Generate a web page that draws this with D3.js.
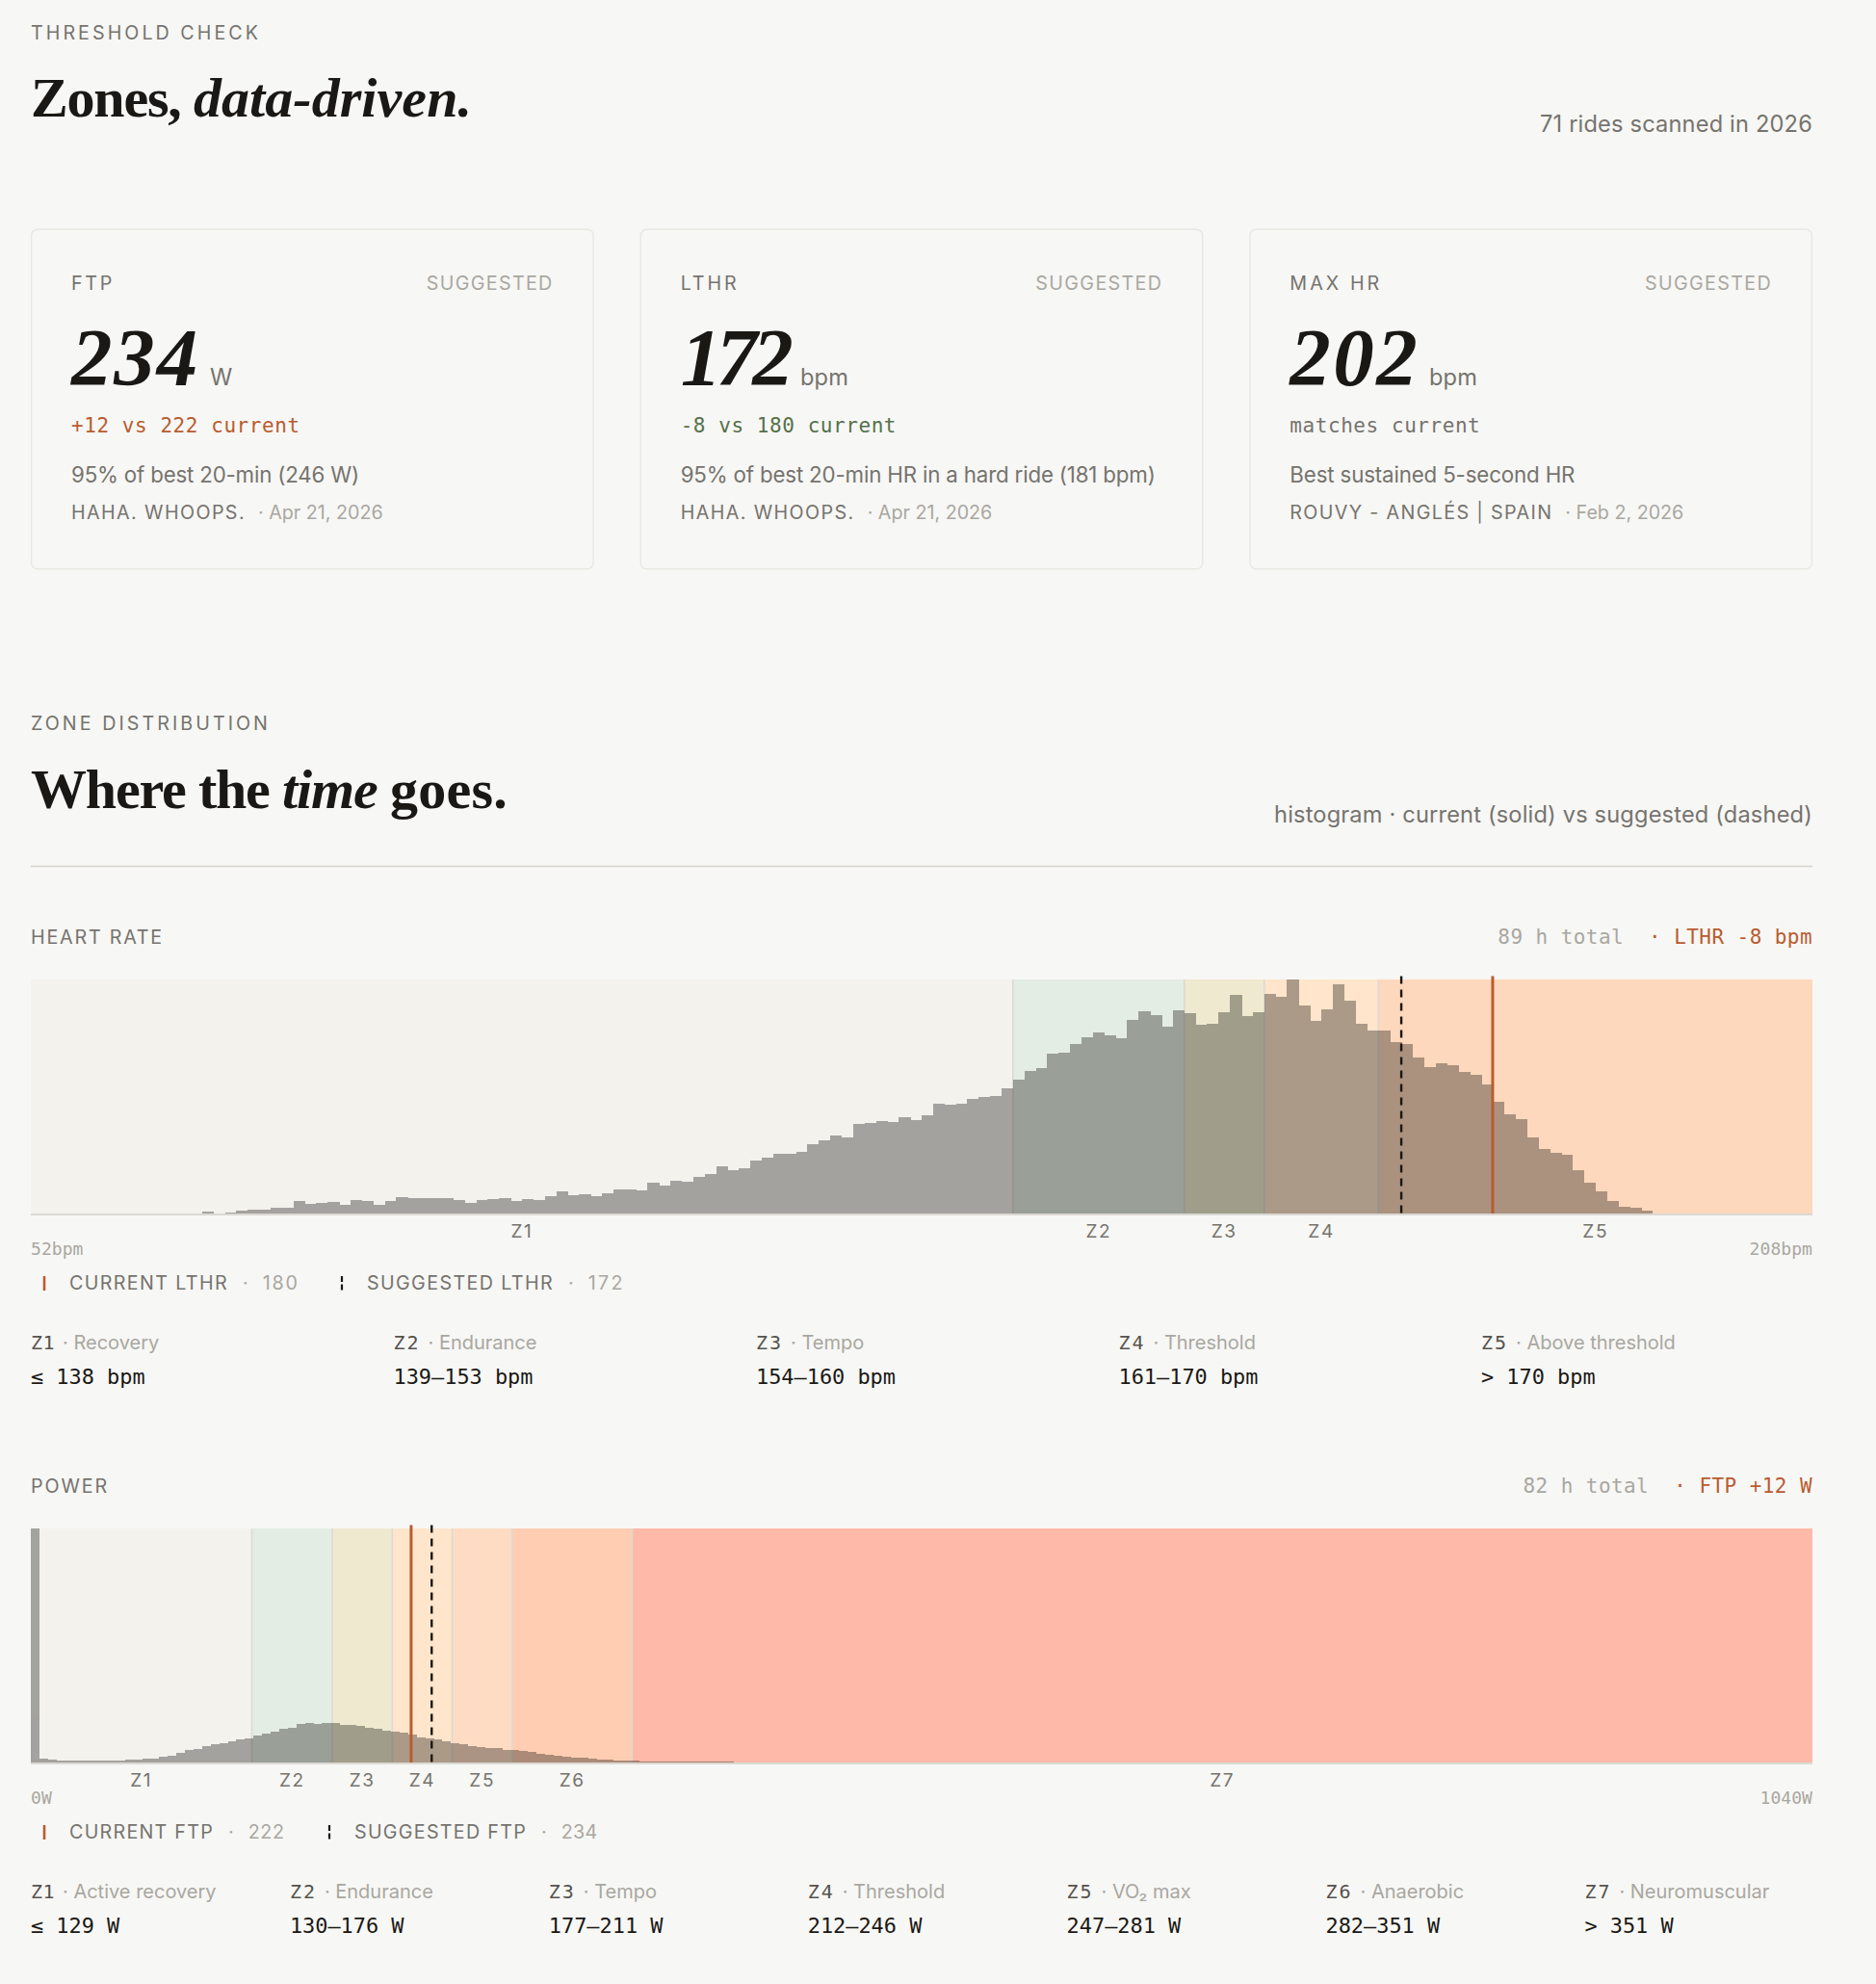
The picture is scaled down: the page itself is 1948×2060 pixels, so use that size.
<!DOCTYPE html>
<html><head><meta charset="utf-8">
<script src="https://cdn.jsdelivr.net/npm/d3@7/dist/d3.min.js"></script>
<style>html,body{margin:0;padding:0;background:#f7f7f5}svg{display:block}svg text{white-space:pre}</style>
</head><body><svg id="c" width="1948" height="2060"></svg>
<script>
// ---------- data: time per bin, as % of the tallest bar ----------
const hrBinStart = 52, hrBinEnd = 208;      // 1 bpm bins
const hrValues = [0,0,0,0,0,0,0,0,0,0,0,0,0,0,0,
 0.8,0.1,0.3,1.2,1.6,1.5,2.6,2.6,5.2,4.0,4.4,4.8,3.8,5.6,5.3,3.7,5.3,6.8,6.4,6.4,6.7,6.4,5.6,4.4,5.9,
 6.1,6.6,5.5,6.1,5.9,7.3,9.5,7.9,8.1,7.5,8.5,10.4,10.1,9.7,13.0,12.0,13.8,13.5,15.7,16.9,20.0,18.4,19.4,22.7,23.8,
 25.4,25.7,26.5,29.8,31.1,33.2,32.5,38.1,38.8,39.6,39.3,41.0,39.9,42.1,47.0,46.7,47.1,49.1,49.6,50.4,53.3,57.1,61.1,62.2,68.2,
 68.6,72.5,75.3,77.3,76.2,75.1,82.9,86.6,84.7,79.9,87.0,85.4,80.5,81.0,85.9,93.6,84.4,86.2,93.9,92.6,100,88.8,82.5,87.3,98.1,
 91.0,80.9,78.2,78.2,73.4,72.4,66.7,62.4,64.2,63.5,60.4,59.3,55.2,47.8,42.5,40.2,32.4,27.7,26.1,24.9,18.4,13.0,9.5,5.2,3.0,
 2.5,1.1,0.2,0,0,0,0,0,0,0,0,0,0,0];
const powerBinStart = 0, powerBinEnd = 1040, powerBinWidth = 5; // 5 W bins
const powerValues = [100,1.6,1.1,.9,.8,.7,.7,.7,.7,.8,.9,1.1,1.2,1.5,1.8,2.3,2.9,4.1,5.2,5.9,6.8,7.8,8.3,9.0,9.8,10.2,
 11.4,12.3,13.2,14.5,15.0,16.3,16.7,16.4,16.7,16.7,16.0,15.9,15.5,15.0,14.2,13.6,13.2,12.6,11.9,10.9,10.2,9.7,9.1,8.2,7.7,
 7.0,6.6,6.3,6.0,5.5,5.3,4.8,4.4,3.8,3.4,3.0,2.6,2.2,1.9,1.6,1.4,1.1,.9,.8,.7,.5,.5,.4,.3,.3,.3,.3,.3,.25,.25,.25,.2];

const hrZoneEdges = [52,138,153,160,170,208];
const hrZoneNames = ["Z1","Z2","Z3","Z4","Z5"];
const hrZoneDesc = ["Recovery","Endurance","Tempo","Threshold","Above threshold"];
const hrZoneRange = ["≤ 138 bpm","139–153 bpm","154–160 bpm","161–170 bpm","> 170 bpm"];
const hrZoneFill = ["#f3f2ed","#e4ede3","#efe9cf","#fee5cb","#fed8bc"];

const pwZoneEdges = [0,129,176,211,246,281,351,1040];
const pwZoneNames = ["Z1","Z2","Z3","Z4","Z5","Z6","Z7"];
const pwZoneDesc = ["Active recovery","Endurance","Tempo","Threshold","VO₂ max","Anaerobic","Neuromuscular"];
const pwZoneRange = ["≤ 129 W","130–176 W","177–211 W","212–246 W","247–281 W","282–351 W","> 351 W"];
const pwZoneFill = ["#f3f2ed","#e4ede3","#efe9cf","#fee5cb","#fedcc3","#fecdb2","#ffb9a8"];

const cardLabels = ["FTP","LTHR","MAX HR"];
const cardValues = ["234","172","202"];
const cardUnits = ["W","bpm","bpm"];
const cardDeltas = ["+12 vs 222 current","-8 vs 180 current","matches current"];
const cardNotes = ["95% of best 20-min (246 W)","95% of best 20-min HR in a hard ride (181 bpm)","Best sustained 5-second HR"];
const cardRides = ["HAHA. WHOOPS.","HAHA. WHOOPS.","ROUVY - ANGLÉS | SPAIN"];
const cardDates = ["· Apr 21, 2026","· Apr 21, 2026","· Feb 2, 2026"];

// ---------- style ----------
const SANS='Inter, sans-serif', MONO='"DejaVu Sans Mono", monospace', SERIF='"Liberation Serif", serif';
const INK='#1a1814', MID='#75736e', SOFT='#a9a7a1', ORANGE='#b95c30', GREEN='#55704a';
const L=32, R=1882;
const svg=d3.select('#c');
svg.append('rect').attr('width',1948).attr('height',2060).attr('fill','#f7f7f5');

// flowed text: spans placed one after another; w = target width fixes the letter spacing
function flow(x,y,spans,anchor){
  const g=svg.append('g'); let cx=0;
  spans.forEach(s=>{
    cx+=s.gap||0;
    const t=g.append('text').attr('x',cx).attr('y',0).text(s.t)
      .attr('fill',s.fill||INK).attr('font-family',s.font||SANS).attr('font-size',s.size)
      .attr('font-weight',s.weight||400).attr('font-style',s.italic?'italic':'normal')
      .style('font-kerning','normal');
    if(s.ls!=null) t.style('letter-spacing',s.ls+'px');
    if(s.w!=null){
      const n=t.node().getComputedTextLength();
      t.style('letter-spacing',((s.w-n)/s.t.length)+'px');
    }
    cx+=t.node().getComputedTextLength();
  });
  const ox= anchor==='end'? x-cx : anchor==='middle'? x-cx/2 : x;
  g.attr('transform',`translate(${ox},${y})`);
  return cx;
}

// ---------- header ----------
flow(L,41,[{t:'THRESHOLD CHECK',size:19.7,fill:MID,w:239}]);
flow(L,121,[{t:'Zones, ',size:58,weight:700,font:SERIF,w:169},{t:'data-driven.',size:58,weight:700,italic:true,font:SERIF,w:289}]);
flow(R,137,[{t:'71 rides scanned in 2026',size:23.6,fill:MID,w:283}],'end');

// ---------- cards ----------
const cardX=d3.scaleBand().domain(d3.range(3)).range([L,R]).paddingInner(48/632.7);
const labelW=[45,61,96], valueW=[133,112,135], unitX=[218,831,1484], unitW=[22,50,50];
const dateGap=13;
const deltaCol=[ORANGE,GREEN,MID];
const noteW=[299,493,296], rideW=[181,181,273];
cardLabels.forEach((lab,i)=>{
  const x=cardX(i), w=cardX.bandwidth(), px=x+42;
  svg.append('rect').attr('x',x+.65).attr('y',238.3).attr('width',w-1.3).attr('height',352.5)
     .attr('rx',6).attr('fill','none').attr('stroke','#e9e7e2').attr('stroke-width',1.4);
  flow(px,301,[{t:lab,size:19.7,fill:MID,w:labelW[i]}]);
  flow(x+w-42,301,[{t:'SUGGESTED',size:19.7,fill:SOFT,w:132}],'end');
  flow(px,400,[{t:cardValues[i],size:85,weight:700,italic:true,font:SERIF,w:valueW[i]}]);
  flow(unitX[i],400,[{t:cardUnits[i],size:23.6,fill:MID,w:unitW[i]}]);
  flow(px,449,[{t:cardDeltas[i],size:21,font:MONO,fill:deltaCol[i],w:cardDeltas[i].length*13.2}]);
  flow(px,501,[{t:cardNotes[i],size:22.3,fill:MID,w:noteW[i]}]);
  flow(px,539,[{t:cardRides[i],size:19.7,fill:MID,w:rideW[i]},{t:cardDates[i],size:19.7,fill:SOFT,gap:dateGap}]);
});

// ---------- section head ----------
flow(L,758,[{t:'ZONE DISTRIBUTION',size:19.7,fill:MID,w:249}]);
flow(L,839,[{t:'Where the ',size:58,weight:700,font:SERIF,w:261},{t:'time ',size:58,weight:700,italic:true,font:SERIF,w:112},{t:'goes.',size:58,weight:700,font:SERIF,w:122}]);
flow(R,854,[{t:'histogram · current (solid) vs suggested (dashed)',size:23.6,fill:MID,w:559}],'end');
svg.append('line').attr('x1',L).attr('x2',R).attr('y1',899.5).attr('y2',899.5).attr('stroke','#d5d3ce').attr('stroke-width',1.5);

// ---------- histogram panels ----------
function panel(o){
  const top=o.top, base=top+243, x=d3.scaleLinear().domain([o.start,o.end]).range([L,R]);
  const y=d3.scaleLinear().domain([0,100]).range([base,top]);
  const dy=o.dy;
  flow(L,980+dy,[{t:o.title,size:19.7,fill:MID,w:o.titleW}]);
  flow(R,980+dy,[{t:o.total,size:21,font:MONO,fill:SOFT,w:o.total.length*13.07},
                 {t:'· ',size:21,font:MONO,fill:ORANGE,gap:26,w:26.2},
                 {t:o.flag,size:21,font:MONO,fill:ORANGE,w:o.flag.length*13.07}],'end');
  const zones=o.names.map((n,i)=>({n,a:o.edges[i],b:o.edges[i+1],c:o.fills[i]}));
  svg.append('g').selectAll('rect').data(zones).join('rect')
    .attr('x',d=>x(d.a)).attr('y',top).attr('width',d=>x(d.b)-x(d.a)).attr('height',base-top).attr('fill',d=>d.c);
  svg.append('g').selectAll('line').data(zones.slice(1)).join('line')
    .attr('x1',d=>x(d.a)).attr('x2',d=>x(d.a)).attr('y1',top).attr('y2',base)
    .attr('stroke','#dcdad4').attr('stroke-width',1.6);
  svg.append('g').attr('opacity',.36).attr('shape-rendering','crispEdges').selectAll('rect').data(o.values).join('rect')
    .attr('x',(d,i)=>x(o.start+i*o.bin)).attr('width',(d,i)=>x(o.start+(i+1)*o.bin)-x(o.start+i*o.bin)+.5)
    .attr('y',d=>y(d)).attr('height',d=>base-y(d)).attr('fill',INK);
  svg.append('line').attr('x1',L).attr('x2',R).attr('y1',base+1).attr('y2',base+1).attr('stroke','#dbd9d3').attr('stroke-width',2);
  // markers
  svg.append('line').attr('x1',x(o.current)).attr('x2',x(o.current)).attr('y1',top-3.5).attr('y2',base)
    .attr('stroke',ORANGE).attr('stroke-width',3);
  svg.append('line').attr('x1',x(o.suggested)).attr('x2',x(o.suggested)).attr('y1',top-3.5).attr('y2',base)
    .attr('stroke',INK).attr('stroke-width',2.4).attr('stroke-dasharray','8 6');
  // zone letters
  zones.forEach(z=>flow((x(z.a)+x(z.b))/2,1285+dy,[{t:z.n,size:19,fill:MID,ls:1.6}],'middle'));
  flow(L,1303+dy,[{t:o.start+o.unit,size:18,font:MONO,fill:SOFT,w:(o.start+o.unit).length*10.9}]);
  flow(R,1303+dy,[{t:o.end+o.unit,size:18,font:MONO,fill:SOFT,w:(o.end+o.unit).length*10.9}],'end');
  // legend
  svg.append('line').attr('x1',46).attr('x2',46).attr('y1',1325+dy).attr('y2',1340+dy).attr('stroke',ORANGE).attr('stroke-width',2.6);
  flow(72,1339+dy,[{t:'CURRENT '+o.metric,size:19.7,fill:MID,w:o.curW},{t:'·',size:19.7,fill:SOFT,gap:15},{t:String(o.current),size:19.7,fill:SOFT,gap:15,w:o.numW}]);
  svg.append('line').attr('x1',o.dashX).attr('x2',o.dashX).attr('y1',1325+dy).attr('y2',1340+dy).attr('stroke',INK).attr('stroke-width',2.2).attr('stroke-dasharray','6 2.5');
  flow(o.dashX+26,1339+dy,[{t:'SUGGESTED '+o.metric,size:19.7,fill:MID,w:o.sugW},{t:'·',size:19.7,fill:SOFT,gap:15},{t:String(o.current===180?o.suggested:o.suggested),size:19.7,fill:SOFT,gap:15,w:o.numW}]);
  // zone table
  const col=d3.scaleLinear().domain([0,1]).range([L,L+o.step]);
  o.names.forEach((n,i)=>{
    flow(col(i),1400.5+dy,[{t:n,size:20,font:MONO,fill:'#55534e',w:n==='Z1'?25:28},{t:'· '+o.desc[i],size:20,fill:SOFT,gap:8}]);
    flow(col(i),1436.5+dy,[{t:o.range[i],size:21.9,font:MONO,fill:INK}]);
  });
}
panel({top:1017,dy:0,title:'HEART RATE',titleW:138,total:'89 h total',flag:'LTHR -8 bpm',start:hrBinStart,end:hrBinEnd,bin:1,
  values:hrValues,edges:hrZoneEdges,names:hrZoneNames,fills:hrZoneFill,desc:hrZoneDesc,range:hrZoneRange,current:180,suggested:172,
  unit:'bpm',metric:'LTHR',curW:165,sugW:194,numW:38,dashX:355,step:376.5});
panel({top:1587,dy:570,title:'POWER',titleW:81,total:'82 h total',flag:'FTP +12 W',start:powerBinStart,end:powerBinEnd,bin:powerBinWidth,
  values:powerValues,edges:pwZoneEdges,names:pwZoneNames,fills:pwZoneFill,desc:pwZoneDesc,range:pwZoneRange,current:222,suggested:234,
  unit:'W',metric:'FTP',curW:150,sugW:179,numW:38,dashX:342,step:268.9});
</script></body></html>
